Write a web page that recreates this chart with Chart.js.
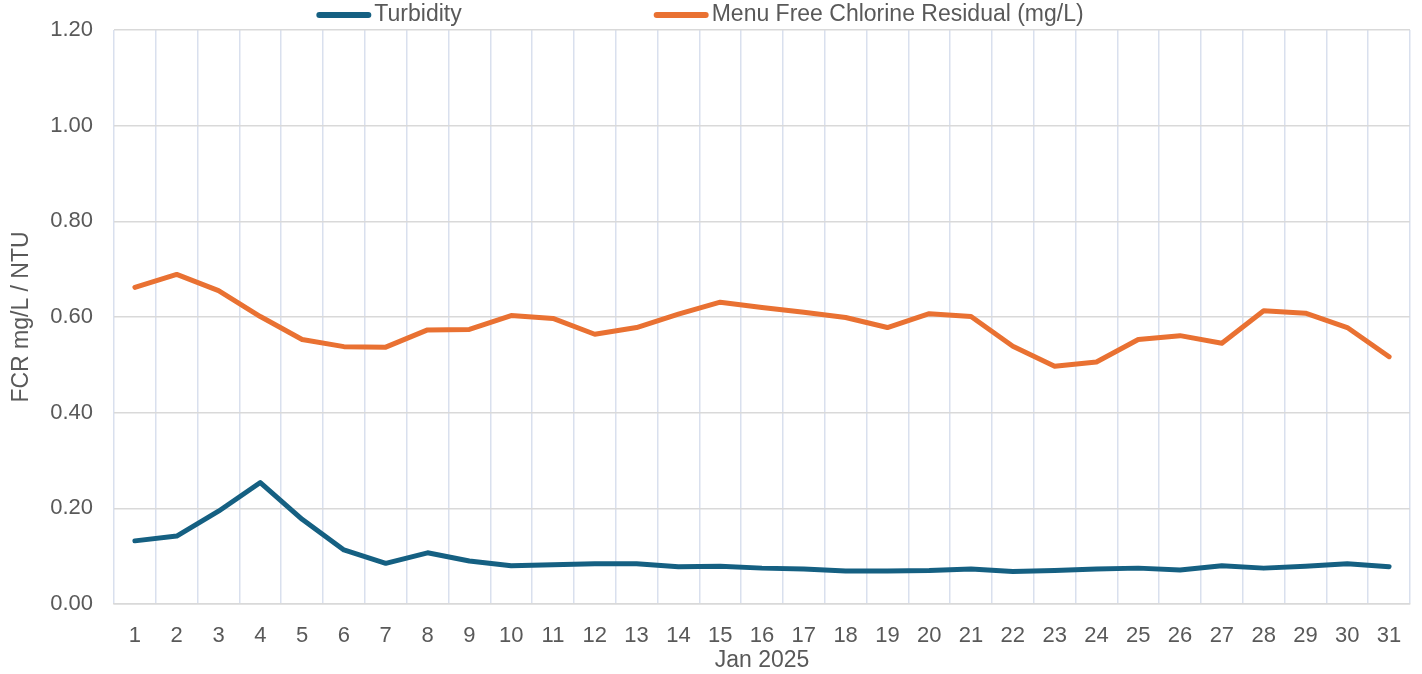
<!DOCTYPE html>
<html>
<head>
<meta charset="utf-8">
<script src="https://cdn.jsdelivr.net/npm/chart.js@4"></script>
<style>
  html, body { margin: 0; padding: 0; background: #ffffff; }
  #wrap { width: 1422px; height: 674px; }
</style>
</head>
<body>
<div id="wrap"><canvas id="grafico"></canvas></div>
<script>
// dados
const dias = ['1','2','3','4','5','6','7','8','9','10','11','12','13','14','15','16',
  '17','18','19','20','21','22','23','24','25','26','27','28','29','30','31'];

const turbidez = [0.132, 0.142, 0.194, 0.254, 0.177, 0.113, 0.085, 0.107, 0.090, 0.080,
  0.082, 0.084, 0.084, 0.078, 0.079, 0.075, 0.073, 0.069, 0.069, 0.070, 0.073, 0.068,
  0.070, 0.073, 0.075, 0.071, 0.080, 0.075, 0.079, 0.084, 0.078];

const cloro = [0.662, 0.689, 0.655, 0.601, 0.553, 0.538, 0.537, 0.573, 0.574, 0.603,
  0.597, 0.564, 0.578, 0.606, 0.631, 0.620, 0.610, 0.599, 0.578, 0.607, 0.601, 0.539,
  0.497, 0.506, 0.553, 0.561, 0.545, 0.613, 0.608, 0.578, 0.517];

const yTicks = [0, 0.2, 0.4, 0.6, 0.8, 1.0, 1.2];

const cinza = '#595959';
const fonte = '"Liberation Sans", Arial, sans-serif';

// legenda desenhada no topo (itens bem afastados, como no original)
const legendaTopo = {
  id: 'legendaTopo',
  afterDraw(chart) {
    const ctx = chart.ctx;
    const sets = chart.data.datasets;
    const marca = 55, espaco = 3, gap = 192;
    ctx.save();
    ctx.font = '23px ' + fonte;
    const larguras = sets.map(ds => ctx.measureText(ds.label).width);
    let total = 0;
    larguras.forEach((w, i) => { total += marca + espaco + w + (i < sets.length - 1 ? gap : 0); });
    let x = chart.width / 2 - 11 - total / 2;
    const y = 15;
    sets.forEach((ds, i) => {
      ctx.strokeStyle = ds.borderColor;
      ctx.lineWidth = 6;
      ctx.lineCap = 'round';
      ctx.beginPath();
      ctx.moveTo(x + 3, y);
      ctx.lineTo(x + marca - 3, y);
      ctx.stroke();
      ctx.fillStyle = cinza;
      ctx.textBaseline = 'middle';
      ctx.textAlign = 'left';
      ctx.fillText(ds.label, x + marca + espaco, y);
      x += marca + espaco + larguras[i] + gap;
    });
    ctx.restore();
  }
};

const grafico = document.getElementById('grafico');

new Chart(grafico, {
  type: 'line',
  data: {
    labels: dias,
    datasets: [{
      label: 'Turbidity',
      data: turbidez,
      borderColor: '#156082',
      backgroundColor: '#156082',
      borderWidth: 5,
      borderCapStyle: 'round',
      borderJoinStyle: 'round',
      pointRadius: 0,
      tension: 0
    }, {
      label: 'Menu Free Chlorine Residual (mg/L)',
      data: cloro,
      borderColor: '#E97132',
      backgroundColor: '#E97132',
      borderWidth: 5,
      borderCapStyle: 'round',
      borderJoinStyle: 'round',
      pointRadius: 0,
      tension: 0
    }]
  },
  options: {
    responsive: true,
    maintainAspectRatio: false,
    animation: false,
    layout: { padding: { top: 30, right: 12, left: 8, bottom: 0 } },
    plugins: {
      legend: { display: false },
      tooltip: { enabled: false }
    },
    scales: {
      x: {
        offset: true,
        afterFit(scale) { scale.height = 70; },
        grid: { offset: true, color: '#d9e0ee', lineWidth: 1.5, drawTicks: false },
        border: { color: '#d9d9d9', width: 1.5 },
        ticks: {
          color: cinza, padding: 19, maxRotation: 0, autoSkip: false,
          font: { family: fonte, size: 22 }
        },
        title: {
          display: true, text: 'Jan 2025', color: cinza, padding: 0,
          font: { family: fonte, size: 23 }
        }
      },
      y: {
        min: 0,
        max: 1.2,
        afterBuildTicks(scale) { scale.ticks = yTicks.map(v => ({ value: v })); },
        afterFit(scale) { scale.width = 106; },
        grid: { color: '#d9d9d9', lineWidth: 1.5, drawTicks: false },
        border: { display: false },
        ticks: {
          color: cinza, padding: 21,
          font: { family: fonte, size: 22, lineHeight: 0.8 },
          callback: v => Number(v).toFixed(2)
        },
        title: {
          display: true, text: 'FCR mg/L / NTU', color: cinza,
          padding: { top: 0, bottom: 14 },
          font: { family: fonte, size: 23 }
        }
      }
    }
  },
  plugins: [legendaTopo]
});
</script>
</body>
</html>
